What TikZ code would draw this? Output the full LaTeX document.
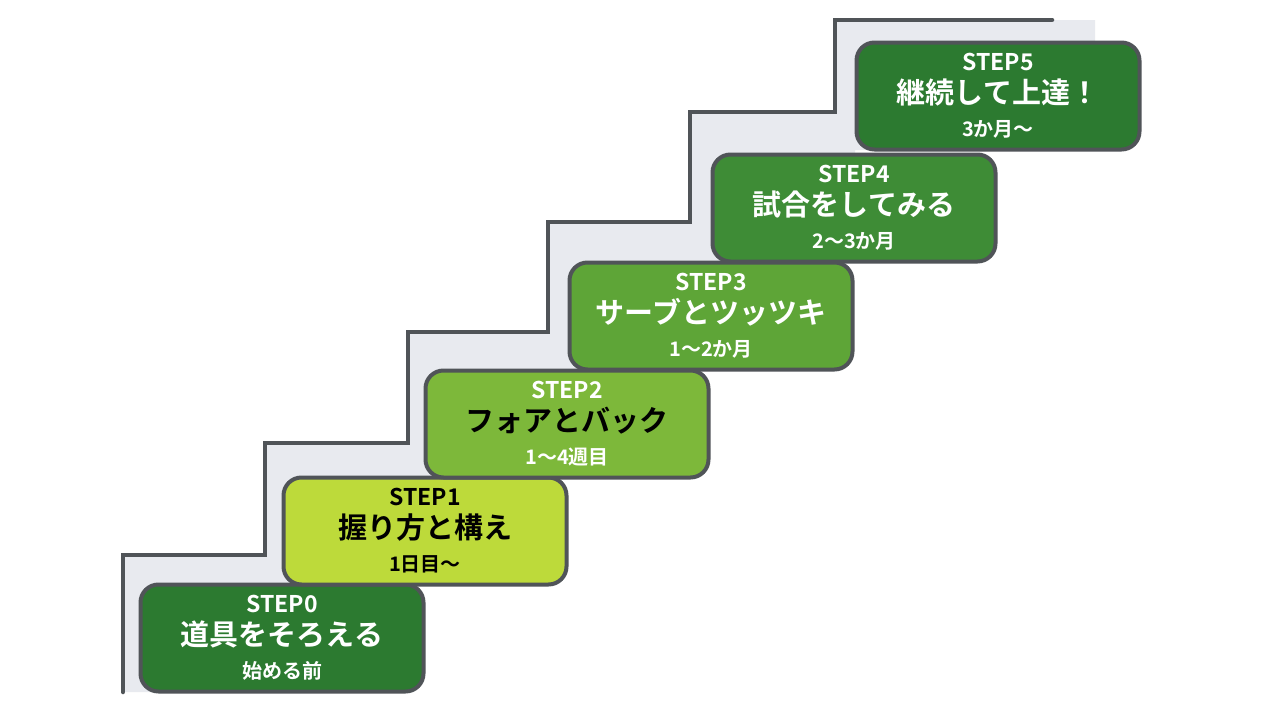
\documentclass[tikz,border=0pt]{standalone}
\usepackage{fontspec}
\setmainfont{Noto Sans CJK JP}[BoldFont={* Bold}]
\usetikzlibrary{positioning}
\definecolor{stairline}{HTML}{505458}
\definecolor{stairfill}{HTML}{E8EAEF}
\definecolor{gA}{HTML}{2C7A30}
\definecolor{gB}{HTML}{BDDA3A}
\definecolor{gC}{HTML}{7DB83A}
\definecolor{gD}{HTML}{5EA537}
\definecolor{gE}{HTML}{3E8C36}
\tikzset{
  stepbox/.style={draw=stairline,line width=4pt,rounded corners=18pt,
    minimum width=283pt,minimum height=107pt,inner sep=0pt,
    align=center,font=\fontsize{22}{33}\selectfont\bfseries,text=white}
}
\newcommand{\steplabel}[4]{{\fontsize{23}{33}\selectfont #2}\\{\fontsize{29}{33}\selectfont\color{#1}#3}\\{\fontsize{20}{33}\selectfont #4}}
\begin{document}
\begin{tikzpicture}[x=1pt,y=-1pt]
    \useasboundingbox (0,0) rectangle (1280,715);
    \fill[white] (0,0) rectangle (1280,715);

    % stair background
    \fill[stairfill] (123,692) |- (265,555) |- (408,443) |- (548,332) |- (690,222) |- (835,112) |- (1095,20)
        -- (1095,150) -| (855,262) -| (710,370) -| (567,477) -| (425,585) -| (283,692) -- cycle;
    \draw[stairline,line width=4.5pt,line cap=round]
        (123,692) |- (265,555) |- (408,443) |- (548,332) |- (690,222) |- (835,112) |- (1052,20);

    % steps
    \node[stepbox,fill=gA] (s0) at (282,638) {\steplabel{white}{STEP0}{道具をそろえる}{始める前}};
    \node[stepbox,fill=gB,text=black] (s1) at (425,531) {\steplabel{black}{STEP1}{握り方と構え}{1日目〜}};
    \node[stepbox,fill=gC] (s2) at (567,424) {\steplabel{black}{STEP2}{フォアとバック}{1〜4週目}};
    \node[stepbox,fill=gD] (s3) at (711,316) {\steplabel{white}{STEP3}{サーブとツッツキ}{1〜2か月}};
    \node[stepbox,fill=gE] (s4) at (854,208) {\steplabel{white}{STEP4}{試合をしてみる}{2〜3か月}};
    \node[stepbox,fill=gA] (s5) at (998,96) {\steplabel{white}{STEP5}{継続して上達！}{3か月〜}};
\end{tikzpicture}
\end{document}
